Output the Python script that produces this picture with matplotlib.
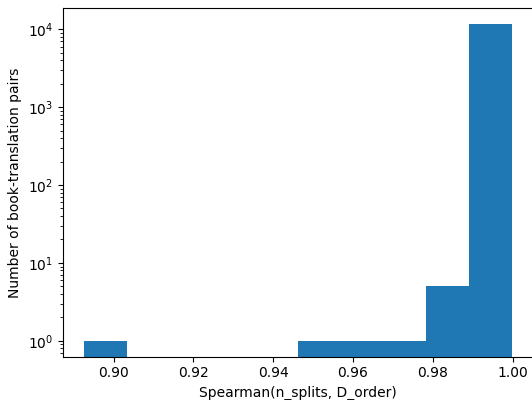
import numpy as np
import matplotlib
matplotlib.use('Agg')
import matplotlib.pyplot as plt

# histogram of spearman correlations, 10 bins
lo = 0.8927
hi = 0.9998
counts = [1, 0, 0, 0, 0, 1, 1, 1, 5, 11720]
edges = np.linspace(lo, hi, len(counts) + 1)

fig = plt.figure(figsize=(5.32, 4.0), dpi=100)
# right side of the axes is cut off by the image edge, like the original
ax = fig.add_axes([63/532, 43.3/400, 470.2/532, 348.7/400])
ax.hist(edges[:-1], bins=edges, weights=counts, log=True)
ax.set_xlabel('Spearman(n_splits, D_order)')
ax.set_ylabel('Number of book-translation pairs')

fig.savefig('out.png', dpi=100)
